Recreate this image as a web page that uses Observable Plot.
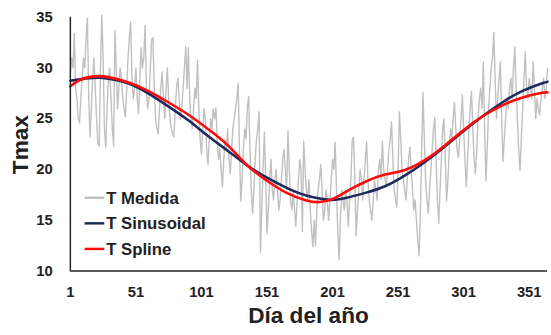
<!DOCTYPE html>
<html><head><meta charset="utf-8">
<script src="https://cdn.jsdelivr.net/npm/d3@7"></script>
<script src="https://cdn.jsdelivr.net/npm/@observablehq/plot@0.6"></script>
<style>
html,body{margin:0;padding:0;background:#fff;overflow:hidden;width:551px;height:335px}
#chart{position:relative;width:551px;height:335px;overflow:hidden}
</style></head><body><div id="chart"></div>
<script>
// Daily measured Tmax (days 1..365)
const tMedida = [
29.5,31,30,33.4,28,27,25,24.6,27,29,
31,30,33,34.9,27,23.2,26,29,31,28,
25,22.5,22.3,30,35.2,31,24,22.2,26,29,
30,27,24,22.3,33.7,30,26,28,30,29,
27,26,25.2,28,31,33,34.5,29,27,28,
30,27,25.5,29,32,30,31,34.2,28,26,
27,30,32.8,33,28,25,24,23.5,26,28,
29.6,27,25,28,30,27,25,24,23.5,23.2,
26,28,29,27,25,26,28,30,32.1,28,
32,27,25,24,26,28,27,30.8,26,23,
21.5,24,26,25,22,20.5,23,25,24,26,
25,26.1,23,21,22,20,18.3,21,23,22,
24,21,19.6,22,24,25,26,27,28.5,22,
16.9,19,22,24,23,26,27.2,22,18,15.7,
18,21,23,24,25.7,11.8,16,20,23.7,19,
13.7,16,19,21,18,17,19,20,18,16,
17,19,21,22,20,18,23.8,20,17,16,
18,16,14.4,17,19,21,20,13.9,22.8,20,
18,17,19,16,14,12.4,15,12.5,16,18,
19,20.5,18,15,16,18,17,15,17,19,
21,20,22.7,18,14,11.1,15,18,17,16,
18,17,14.4,17,19,23,23.2,19,13.5,16,
18,20,19,17,19,21,22.7,19,17,16,
15,17,19,18,17,20,21,19,22.8,20,
19,18.3,20,22,23,24.7,21,18,17,16.3,
20,25.7,23,20,19,18,17,19,21,22.2,
20,18,16,17,15,13,11.5,16,22,27.6,
23,19,17,15.7,18,20,22,24,25.1,21,
17,14.7,18,21,24,25,21,16.9,19,22,
24,23,25,26.6,24,22,21.2,23,25,27.4,
24,21,18.3,21,24,26,27.7,24,21,19.6,
22,25,27,28,26,30.6,24,18.9,22,26,
28,30,31,33.5,29,25,27,29,30.6,25,
20.8,23,25,27,26,28,29,27,30,32.1,
28,25,22,19.9,23,26,29,31.6,28,27,
29,28,27,30.6,28,25,27,26,25.4,27,
28,29,27,28,30
];

// Sinusoidal fit, read at selected days
const sinDays = [1,15,23,30,45,61,76,91,106,121,136,151,166,181,196,201,211,226,241,256,271,286,301,316,331,346,361,365];
const sinVals = [28.75,29.0,29.05,28.95,28.5,27.45,26.2,24.85,23.3,21.85,20.4,19.2,18.2,17.45,17.05,17.0,17.2,17.7,18.35,19.4,20.7,22.2,23.8,25.3,26.65,27.75,28.5,28.65];

// Spline fit, read at selected days
const splDays = [1,8,15,23,30,45,61,76,91,106,121,136,151,166,181,191,201,211,226,241,256,271,286,301,316,331,346,361,365];
const splVals = [28.2,28.8,29.1,29.2,29.1,28.6,27.7,26.6,25.4,24.0,22.4,20.4,18.9,17.7,16.95,16.8,17.1,17.8,18.8,19.5,19.95,20.9,22.3,23.9,25.3,26.35,27.1,27.55,27.6];

const xTicks = [1,51,101,151,201,251,301,351];
const yTicks = [10,15,20,25,30,35];
const seriesNames = ["T Medida","T Sinusoidal","T Spline"];
const seriesColors = ["#c0c0c0","#1d2a5c","#ff0a0a"];
const xTitle = "Día del año";
const yTitle = "Tmax";

const medida = tMedida.map((v,i)=>({day:i+1, t:v}));
const sinus = sinDays.map((d,i)=>({day:d, t:sinVals[i]}));
const spline = splDays.map((d,i)=>({day:d, t:splVals[i]}));

const font = "'Liberation Sans', Arial, sans-serif";
const chart = Plot.plot({
  width: 560, height: 335,
  marginLeft: 71, marginRight: 4, marginTop: 17, marginBottom: 60,
  x: {domain: [1, 365]},
  y: {domain: [10, 35]},
  style: {fontFamily: font, fontSize: "15px", fontWeight: "bold", color: "#222", background: "#fff"},
  marks: [
    Plot.line(medida, {x: "day", y: "t", stroke: seriesColors[0], strokeWidth: 1.4}),
    Plot.line(sinus, {x: "day", y: "t", stroke: seriesColors[1], strokeWidth: 2.6, curve: "natural"}),
    Plot.line(spline, {x: "day", y: "t", stroke: seriesColors[2], strokeWidth: 2.6, curve: "natural"}),
    Plot.ruleX([1], {stroke: "#222", strokeWidth: 1.5}),
    Plot.ruleY([10], {stroke: "#222", strokeWidth: 1.5}),
    Plot.axisX({ticks: xTicks, tickSize: 0, tickPadding: 16, label: null, tickFormat: d => String(d)}),
    Plot.axisY({ticks: yTicks, tickSize: 0, tickPadding: 18, label: null})
  ]
});
document.getElementById("chart").appendChild(chart);

const svg = d3.select(chart);
const xr = chart.scale("x").range;
svg.append("text")
  .attr("x", (xr[0] + xr[1]) / 2).attr("y", 328)
  .attr("text-anchor", "middle")
  .style("font", `bold 23px ${font}`).attr("fill", "#222")
  .text(xTitle);
svg.append("text")
  .attr("transform", "translate(28,147) rotate(-90)")
  .attr("text-anchor", "middle")
  .style("font", `bold 23px ${font}`).attr("fill", "#222")
  .text(yTitle);

const lg = svg.append("g").attr("text-anchor", "start");
seriesNames.forEach((name, i) => {
  const y = 201 + i * 26;
  lg.append("line").attr("x1", 86).attr("x2", 106).attr("y1", y).attr("y2", y)
    .attr("stroke", seriesColors[i]).attr("stroke-width", 2.5);
  lg.append("text").attr("x", 108).attr("y", y).attr("dy", "0.35em")
    .attr("text-anchor", "start")
    .style("font", `bold 17px ${font}`).attr("fill", "#222").text(name);
});
</script></body></html>
